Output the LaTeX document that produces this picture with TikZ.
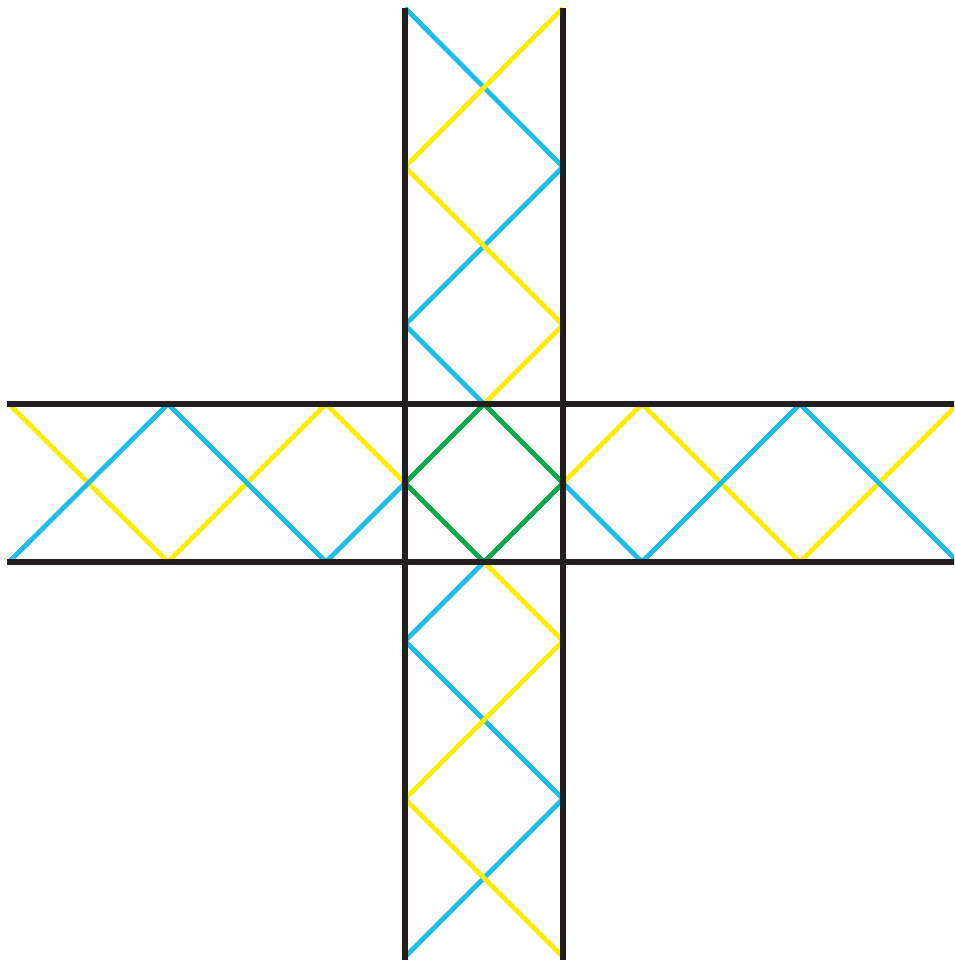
\documentclass[tikz,border=0pt]{standalone}
\definecolor{cblue}{HTML}{1CBCEB}
\definecolor{cyellow}{HTML}{FFEC00}
\definecolor{cgreen}{HTML}{0EA84B}
\definecolor{cblack}{HTML}{231F20}
\tikzset{
  frame/.style={draw=cblack, line width=5.6pt},
  bluez/.style={draw=cblue, line width=4.8pt, line join=miter},
  yellowz/.style={draw=cyellow, line width=4.8pt, line join=miter},
  greenz/.style={draw=cgreen, line width=4.8pt, line join=miter},
}
\begin{document}
\begin{tikzpicture}[x=1pt,y=-1pt]
\useasboundingbox (0,0) rectangle (954,960);
\clip (0,0) rectangle (954,960);
% key coordinates
\coordinate (T) at (484,404);
\coordinate (B) at (484,562);
\coordinate (L) at (405,483);
\coordinate (R) at (563,483);
% top strip
\draw[bluez] (T) -- (405,325) -- (563,167) -- (405,8);
\draw[yellowz] (T) -- (563,325) -- (405,167) -- (563,8);
% bottom strip
\draw[bluez] (B) -- (405,641) -- (563,799) -- (405,957);
\draw[yellowz] (B) -- (563,641) -- (405,799) -- (563,957);
% left strip
\draw[yellowz] (L) -- (326,404) -- (168,562) -- (9,404);
\draw[bluez] (L) -- (326,562) -- (168,404) -- (9,562);
% right strip
\draw[yellowz] (R) -- (642,404) -- (800,562) -- (958,404);
\draw[bluez] (R) -- (642,562) -- (800,404) -- (958,562);
% centre diamond
\draw[greenz] (T) -- (R) -- (B) -- (L) -- cycle;
% black frame lines
\draw[frame] (405,8) -- (405,970);
\draw[frame] (563,8) -- (563,970);
\draw[frame] (7,404) -- (970,404);
\draw[frame] (7,562) -- (970,562);
\end{tikzpicture}
\end{document}
